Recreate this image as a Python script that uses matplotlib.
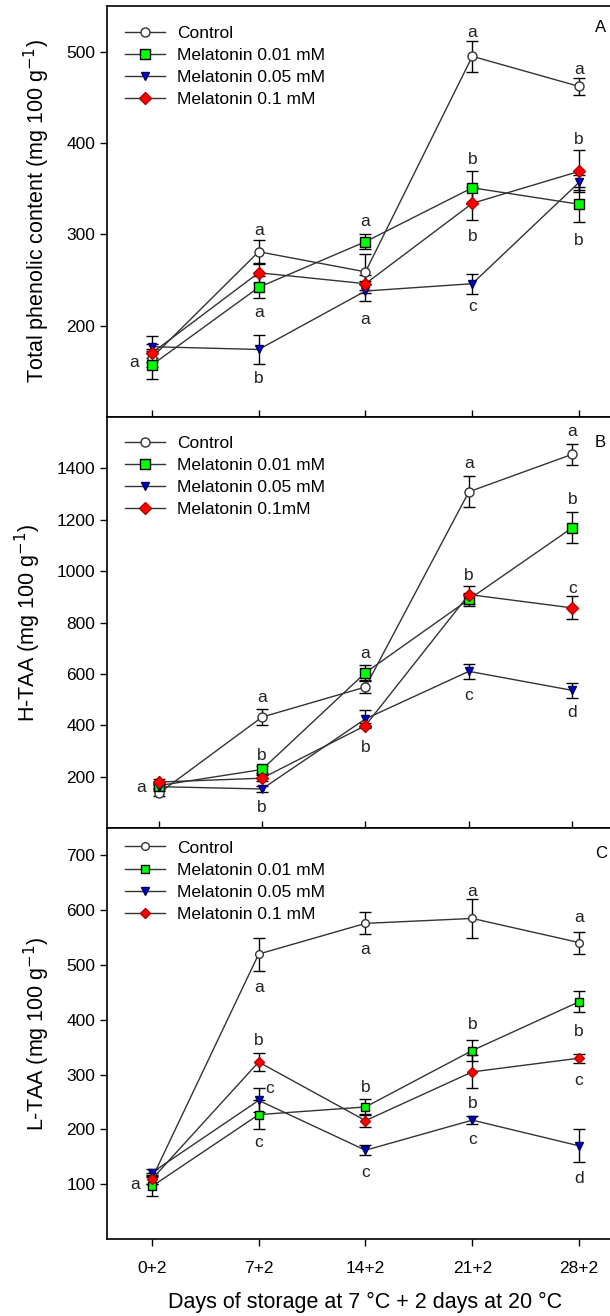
import matplotlib.pyplot as plt
import numpy as np

plt.rcParams['font.family'] = ['Liberation Sans', 'DejaVu Sans']

days = ['0+2', '7+2', '14+2', '21+2', '28+2']

# Panel A - total phenolic content
tpc_control = [165, 281, 259, 495, 462]
tpc_control_err = [10, 13, 20, 17, 9]
tpc_m001 = [157, 242, 292, 351, 333]
tpc_m001_err = [15, 12, 8, 18, 19]
tpc_m005 = [177, 174, 238, 246, 357]
tpc_m005_err = [12, 16, 11, 11, 8]
tpc_m01 = [170, 258, 246, 334, 369]
tpc_m01_err = [10, 11, 10, 18, 23]
tpc_letters = [(0, 160, 'a', -0.17), (1, 304, 'a', 0), (1, 214, 'a', 0), (1, 142, 'b', 0),
               (2, 314, 'a', 0), (2, 207, 'a', 0), (3, 521, 'a', 0), (3, 382, 'b', 0),
               (3, 298, 'b', 0), (3, 221, 'c', 0), (4, 481, 'a', 0), (4, 404, 'b', 0),
               (4, 293, 'b', 0)]

# Panel B - H-TAA
htaa_control = [135, 432, 549, 1309, 1455]
htaa_control_err = [10, 32, 22, 60, 40]
htaa_m001 = [165, 228, 605, 890, 1169]
htaa_m001_err = [10, 15, 28, 25, 60]
htaa_m005 = [161, 152, 425, 610, 536]
htaa_m005_err = [10, 10, 33, 30, 28]
htaa_m01 = [179, 194, 399, 909, 857]
htaa_m01_err = [10, 12, 10, 35, 45]
htaa_letters = [(0, 156, 'a', -0.17), (1, 510, 'a', 0), (1, 282, 'b', 0), (1, 81, 'b', 0),
                (2, 679, 'a', 0), (2, 315, 'b', 0), (3, 1419, 'a', 0), (3, 984, 'b', 0),
                (3, 516, 'c', 0), (4, 1543, 'a', 0), (4, 1280, 'b', 0), (4, 932, 'c', 0),
                (4, 451, 'd', 0)]

# Panel C - L-TAA
ltaa_control = [110, 520, 576, 585, 541]
ltaa_control_err = [10, 30, 20, 35, 20]
ltaa_m001 = [96, 227, 241, 344, 433]
ltaa_m001_err = [17, 26, 14, 20, 19]
ltaa_m005 = [121, 253, 162, 217, 170]
ltaa_m005_err = [6, 22, 9, 8, 30]
ltaa_m01 = [109, 323, 216, 305, 330]
ltaa_m01_err = [8, 17, 12, 30, 8]
ltaa_letters = [(0, 100, 'a', -0.16), (1, 459, 'a', 0), (1, 362, 'b', 0), (1, 275, 'c', 0.1),
                (1, 177, 'c', 0), (2, 528, 'a', 0), (2, 277, 'b', 0), (2, 122, 'c', 0),
                (3, 635, 'a', 0), (3, 391, 'b', 0), (3, 247, 'b', 0), (3, 182, 'c', 0),
                (4, 587, 'a', 0), (4, 379, 'b', 0), (4, 289, 'c', 0), (4, 111, 'd', 0)]

styles = [
    dict(marker='o', mfc='white', mec='#333333', ms=6.5),
    dict(marker='s', mfc='#00ff00', mec='black', ms=7),
    dict(marker='v', mfc='#0000cc', mec='#000060', ms=6),
    dict(marker='D', mfc='#ff0000', mec='#b00000', ms=6.5),
]

panels = [
    dict(series=[(tpc_control, tpc_control_err), (tpc_m001, tpc_m001_err),
                 (tpc_m005, tpc_m005_err), (tpc_m01, tpc_m01_err)],
         names=['Control', 'Melatonin 0.01 mM', 'Melatonin 0.05 mM', 'Melatonin 0.1 mM'],
         letters=tpc_letters, ylim=(100, 550), yticks=[200, 300, 400, 500],
         xlim=(-0.42, 4.42), ylabel='Total phenolic content (mg 100 g$^{-1}$)', tag='A',
         tagy=0.949, legy=0.952, mscale=1.0,
         rect=[0.1754, 0.6831, 0.8475, 0.3123], tickdir='in'),
    dict(series=[(htaa_control, htaa_control_err), (htaa_m001, htaa_m001_err),
                 (htaa_m005, htaa_m005_err), (htaa_m01, htaa_m01_err)],
         names=['Control', 'Melatonin 0.01 mM', 'Melatonin 0.05 mM', 'Melatonin 0.1mM'],
         letters=htaa_letters, ylim=(0, 1600), yticks=[200, 400, 600, 800, 1000, 1200, 1400],
         xlim=(-0.5, 4.5), ylabel='H-TAA (mg 100 g$^{-1}$)', tag='B',
         tagy=0.937, legy=0.955, mscale=1.0,
         rect=[0.1754, 0.3708, 0.8475, 0.3123], tickdir='in'),
    dict(series=[(ltaa_control, ltaa_control_err), (ltaa_m001, ltaa_m001_err),
                 (ltaa_m005, ltaa_m005_err), (ltaa_m01, ltaa_m01_err)],
         names=['Control', 'Melatonin 0.01 mM', 'Melatonin 0.05 mM', 'Melatonin 0.1 mM'],
         letters=ltaa_letters, ylim=(0, 750), yticks=[100, 200, 300, 400, 500, 600, 700],
         xlim=(-0.42, 4.42), ylabel='L-TAA (mg 100 g$^{-1}$)', tag='C',
         tagy=0.939, legy=0.970, mscale=0.85,
         rect=[0.1754, 0.0585, 0.8475, 0.3123], tickdir='out'),
]

fig = plt.figure(figsize=(6.1, 13.16), dpi=100)
x = np.arange(len(days))

for p in panels:
    ax = fig.add_axes(p['rect'])
    for (vals, err), name, st in zip(p['series'], p['names'], styles):
        ax.errorbar(x, vals, yerr=err, fmt='none', ecolor='black',
                    elinewidth=1, capsize=4, capthick=1, zorder=2)
        st = dict(st, ms=st['ms'] * p['mscale'])
        ax.plot(x, vals, color='#333333', lw=1, label=name, zorder=3, **st)
    for i, yv, letter, dx in p['letters']:
        ax.text(x[i] + dx, yv, letter, ha='center', va='center', fontsize=12.5, color='#222222')
    ax.text(0.944, p['tagy'], p['tag'], transform=ax.transAxes, fontsize=12, ha='left', va='center')
    ax.set_xlim(p['xlim'])
    ax.set_ylim(p['ylim'])
    ax.set_yticks(p['yticks'])
    ax.set_xticks(x)
    ax.set_ylabel(p['ylabel'], fontsize=15.5, labelpad=10)
    ax.tick_params(axis='y', direction='out', length=5, width=1, labelsize=12.5)
    ax.tick_params(axis='x', direction=p['tickdir'], length=5, width=1, labelsize=12.5, pad=10.5)
    for s in ax.spines.values():
        s.set_linewidth(1.2)
    ax.legend(loc='upper left', bbox_to_anchor=(0.035, p['legy']), frameon=False, fontsize=12.5,
              borderpad=0, borderaxespad=0, handlelength=2.3, handletextpad=0.7, labelspacing=0.4)
    if p['tag'] == 'C':
        ax.set_xticklabels(days)
        ax.set_xlabel('Days of storage at 7 °C + 2 days at 20 °C', fontsize=15.5, labelpad=12)
    else:
        ax.set_xticklabels([])

fig.savefig('out.png', dpi=100)
